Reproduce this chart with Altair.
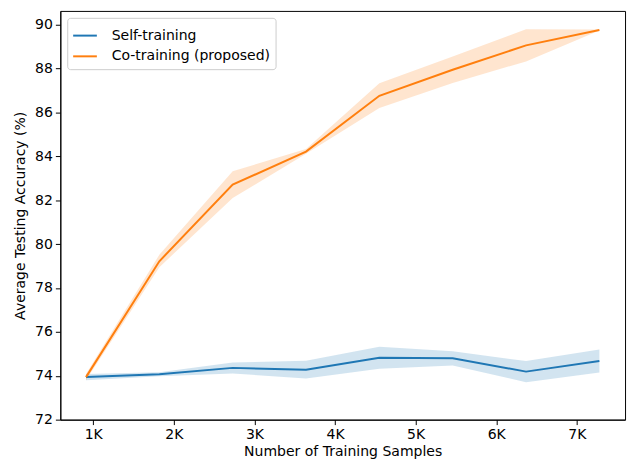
import altair as alt
import pandas as pd

samples = [910, 1820, 2730, 3640, 4550, 5460, 6370, 7280]
self_mean = [73.94, 74.07, 74.36, 74.28, 74.82, 74.80, 74.19, 74.67]
self_lo = [73.80, 73.98, 74.10, 73.88, 74.32, 74.47, 73.71, 74.15]
self_hi = [74.08, 74.16, 74.60, 74.69, 75.32, 75.12, 74.67, 75.20]
co_mean = [73.94, 79.22, 82.71, 84.22, 86.76, 87.95, 89.06, 89.76]
co_lo = [73.80, 78.95, 82.10, 84.12, 86.20, 87.35, 88.33, 89.74]
co_hi = [74.08, 79.52, 83.32, 84.34, 87.33, 88.55, 89.80, 89.78]
series = ["Self-training", "Co-training (proposed)"]
colors = ["#1f77b4", "#ff7f0e"]

rows = []
for name, m, lo, hi in [(series[0], self_mean, self_lo, self_hi),
                        (series[1], co_mean, co_lo, co_hi)]:
    for i, x in enumerate(samples):
        rows.append({"series": name, "x": x, "y": m[i], "lo": lo[i], "hi": hi[i]})
df = pd.DataFrame(rows)

font = "DejaVu Sans"
fs = 14.2
xscale = alt.Scale(domain=[591.5, 7598.5], nice=False, zero=False)
yscale = alt.Scale(domain=[72, 90.63], nice=False, zero=False)
cscale = alt.Scale(domain=series, range=colors)

axis_style = dict(grid=False, tickSize=5, labelPadding=3, labelFont=font,
                  titleFont=font, labelFontSize=fs, titleFontSize=fs,
                  titleFontWeight="normal", labelColor="black",
                  titleColor="black", domainColor="black", tickColor="black")

xaxis = alt.Axis(values=[1000, 2000, 3000, 4000, 5000, 6000, 7000],
                 labelExpr="datum.value/1000 + 'K'",
                 title="Number of Training Samples", titlePadding=3, **axis_style)
yaxis = alt.Axis(values=list(range(72, 91, 2)),
                 title="Average Testing Accuracy (%)", titlePadding=7, **axis_style)

legend = alt.Legend(title=None, orient="top-left", offset=7, padding=5,
                    symbolType="stroke", symbolSize=576, symbolStrokeWidth=2,
                    symbolOpacity=1, symbolFillColor="transparent",
                    labelFontSize=fs, labelFont=font, labelColor="black",
                    labelLimit=400, labelOffset=14, rowPadding=0,
                    strokeColor="#cccccc", fillColor="white", cornerRadius=3)

band = alt.Chart(df).mark_area(opacity=0.2).encode(
    x=alt.X("x:Q", scale=xscale, axis=xaxis),
    y=alt.Y("lo:Q", scale=yscale, axis=yaxis),
    y2="hi:Q",
    color=alt.Color("series:N", scale=cscale, legend=legend),
)

line = alt.Chart(df).mark_line(strokeWidth=2).encode(
    x=alt.X("x:Q", scale=xscale),
    y=alt.Y("y:Q", scale=yscale),
    color=alt.Color("series:N", scale=cscale, legend=legend),
)

chart = (band + line).properties(
    width=572, height=414,
    padding={"left": 53, "top": 0, "right": 4, "bottom": 46},
    autosize=alt.AutoSizeParams(type="none"),
    background="white",
).configure_view(stroke="black", strokeWidth=1)

chart.save("out.html", embed_options={"renderer": "svg", "actions": False})
